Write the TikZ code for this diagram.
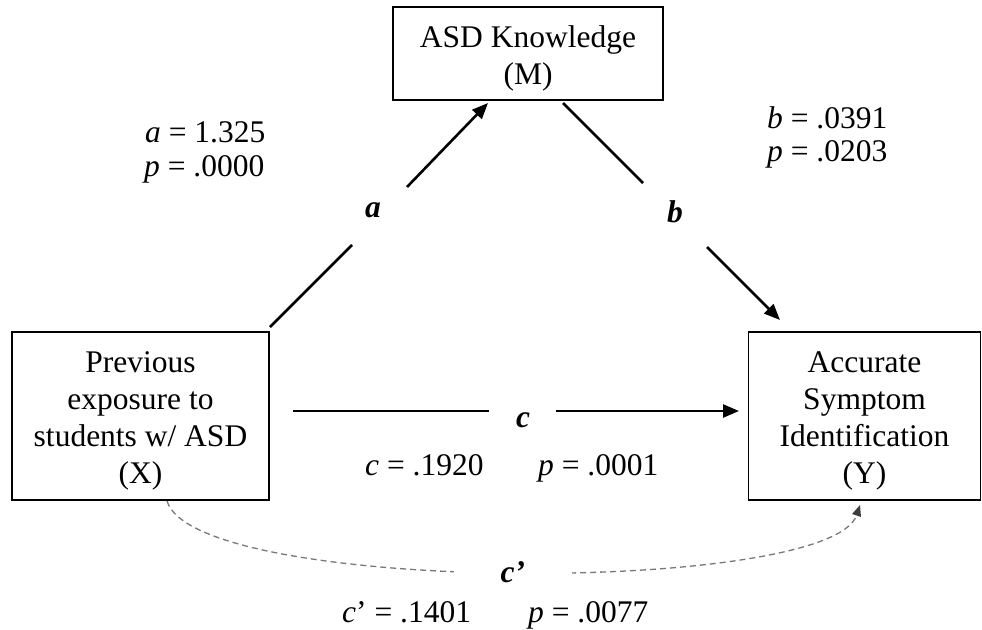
\documentclass[tikz,border=0pt]{standalone}
\usepackage{fontspec}
\setmainfont{Liberation Serif}
\usetikzlibrary{arrows.meta}
\definecolor{dashgray}{RGB}{120,120,120}
\definecolor{tipgray}{RGB}{60,60,60}
\newcommand{\firstlinestrut}{\rule{0pt}{31pt}}
\begin{document}
\begin{tikzpicture}[x=1pt,y=-1pt,
  box/.style={draw, line width=1.7pt, align=center, inner sep=0pt,
    font=\fontsize{31.5}{37}\selectfont},
  conn/.style={line width=2.6pt},
  tipA/.style={-{Triangle[length=16pt,width=13pt]}},
  stat/.style={anchor=base west, inner sep=0pt, font=\fontsize{31.5}{37}\selectfont},
  pathlabel/.style={anchor=base, inner sep=0pt, font=\fontsize{31.5}{37}\selectfont\bfseries\itshape},
  dashline/.style={draw=dashgray, line width=1.3pt, dash pattern=on 6pt off 4pt},
  tipB/.style={-{Triangle[length=11pt,width=9pt,color=tipgray]}}
]
\useasboundingbox (0,0) rectangle (982,629);

% boxes
\node[box, minimum width=270pt, minimum height=93pt] (M) at (528,53.5)
  {\firstlinestrut ASD Knowledge\\(M)};
\node[box, minimum width=257pt, minimum height=168pt] (X) at (140.5,416)
  {\firstlinestrut Previous\\exposure to\\students w/ ASD\\(X)};
\node[box, minimum width=232pt, minimum height=168pt] (Y) at (864.5,416)
  {\firstlinestrut Accurate\\Symptom\\Identification\\(Y)};

% path labels
\node[pathlabel] (la) at (373,217) {a};
\node[pathlabel] (lb) at (675,222) {b};
\node[pathlabel] (lc) at (523,427) {c};

% statistics
\node[stat] (sa1) at (145,142) {\textit{a} = 1.325};
\node[stat] (sa2) at (144,176) {\textit{p} = .0000};
\node[stat] (sb1) at (767,128) {\textit{b} = .0391};
\node[stat] (sb2) at (767,161) {\textit{p} = .0203};
\node[stat] (sc1) at (365,475) {\textit{c} = .1920};
\node[stat] (sc2) at (538,475) {\textit{p} = .0001};
\node[stat] (sd1) at (342,622) {\textit{c}’ = .1401};
\node[stat] (sd2) at (528,622) {\textit{p} = .0077};

% connector end points
\coordinate (a0) at (270,327);
\coordinate (a1) at (352,245);
\coordinate (a2) at (407,187);
\coordinate (a3) at (488,103);
\coordinate (b0) at (563,103);
\coordinate (b1) at (643,183);
\coordinate (b2) at (707,247);
\coordinate (b3) at (780,320);
\coordinate (c0) at (293,411);
\coordinate (c1) at (489,411);
\coordinate (c2) at (556,411);
\coordinate (c3) at (739,411);
\coordinate (d0) at (167,501);
\coordinate (d3) at (860,505);

% connectors
\draw[conn] (a0) -- (a1);
\draw[conn, tipA] (a2) -- (a3);
\draw[conn] (b0) -- (b1);
\draw[conn, tipA] (b2) -- (b3);
\draw[conn] (c0) -- (c1);
\draw[conn, tipA] (c2) -- (c3);
\draw[dashline, tipB] (d0) .. controls (195,595) and (830,595) .. (d3)
  node[pos=0.5, fill=white, minimum width=118pt, minimum height=36pt, inner sep=0pt,
       font=\fontsize{31.5}{37}\selectfont\bfseries\itshape] (lcp) {c’};
\end{tikzpicture}
\end{document}
